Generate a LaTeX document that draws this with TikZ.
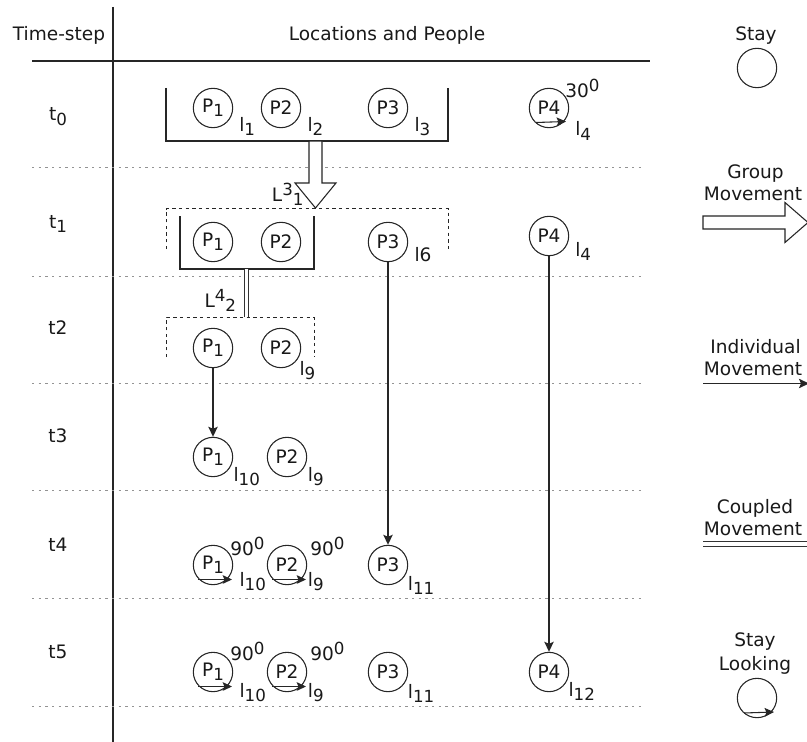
\documentclass[tikz,border=0pt]{standalone}
\usepackage{fontspec}
\setmainfont{DejaVu Sans}
\usetikzlibrary{arrows.meta,calc}
\newcommand\dn[1]{\raisebox{-3pt}{\fontsize{12.5}{13}\selectfont #1}}
\newcommand\up[1]{\raisebox{4.5pt}{\fontsize{12.5}{13}\selectfont #1}}
\begin{document}
\begin{tikzpicture}[x=0.75pt,y=-0.75pt,
  every node/.style={font=\fontsize{13.9}{16}\selectfont, inner sep=0pt, text=black!90},
  person/.style={circle, draw=black!85, line width=0.8pt, minimum size=29.5pt, inner sep=0pt},
  lab/.style={anchor=base west},
  txt/.style={anchor=base},
  rowline/.style={draw=gray!85, line width=0.75pt, dash pattern=on 1.8pt off 3.2pt},
  grp/.style={draw=black!85, line width=0.75pt, dash pattern=on 2.5pt off 2.5pt},
  solidbox/.style={draw=black!85, line width=0.8pt},
  mv/.style={draw=black!85, line width=1pt, -{Stealth[length=7.5pt,width=7pt,inset=1.5pt]}},
  look/.style={draw=black!85, line width=0.8pt, -{Stealth[length=7pt,width=6.5pt,inset=1.3pt]}},
  hollow/.style={draw=black!85, line width=0.8pt, fill=white, line join=miter},
  cpl/.style={draw=black!80, line width=0.75pt, double=white, double distance=2.8pt}]
\clip (0,0) rectangle (807,742);
\fill[white] (0,0) rectangle (807,742);

% frame
\draw[line width=1pt, black!85] (113,7) -- (113,742);
\draw[line width=1pt, black!85] (32,61) -- (650,61);
\foreach \yy in {167,276,383,490,598,706} \draw[rowline] (32,\yy) -- (645,\yy);

% header
\node[txt] (hT) at (59,40.5) {Time-step};
\node[txt] (hL) at (387,41) {Locations and People};
\node[txt] (hS) at (756,40.5) {Stay};

% time labels
\node[txt] (t0) at (58,121) {t\dn{0}};
\node[txt] (t1) at (58,228) {t\dn{1}};
\node[txt] (t2) at (58,334.5) {t2};
\node[txt] (t3) at (58,442.5) {t3};
\node[txt] (t4) at (58,551.5) {t4};
\node[txt] (t5) at (58,658.5) {t5};

% ---- t0
\draw[solidbox] (166,88) -- (166,141) -- (448,141) -- (448,88);
\node[person] (p1a) at (213,108) {P\dn{1}};
\node[person] (p2a) at (281,108) {P2};
\node[person] (p3a) at (388,108) {P3};
\node[person] (p4a) at (549,108) {P4};
\node[lab] (l1) at (239,131.5) {l\dn{1}};
\node[lab] (l2) at (307.3,131.5) {l\dn{2}};
\node[lab] (l3) at (414.3,131.5) {l\dn{3}};
\node[lab] (a30) at (565,97.7) {30\up{0}};
\node[lab] (l4a) at (575,136) {l\dn{4}};
\draw[look] ([shift={(-13,14.5)}]p4a.center) -- ([shift={(17,13.5)}]p4a.center);

% group movement arrow
\coordinate (g0) at (315.5,141);
\coordinate (g1) at (315.5,208);
\draw[hollow] ($(g0)+(-6.5,0)$) -- ($(g0)+(6.5,0)$) -- ($(g1)+(6.5,-25)$) -- ($(g1)+(20.5,-25)$) -- (g1) -- ($(g1)+(-20.5,-25)$) -- ($(g1)+(-6.5,-25)$) -- cycle;
\node[lab] (L31) at (271.7,201) {L\up{3}\dn{1}};

% ---- t1
\draw[grp] (166,249) -- (166,208.5) -- (448,208.5) -- (448,249);
\draw[solidbox] (180,216) -- (180,269) -- (314,269) -- (314,216);
\node[person] (p1b) at (213,242) {P\dn{1}};
\node[person] (p2b) at (281,242) {P2};
\node[person] (p3b) at (388,242) {P3};
\node[person] (p4b) at (549,236) {P4};
\node[lab] (l6) at (414.3,261.7) {l6};
\node[lab] (l4b) at (575,256.7) {l\dn{4}};

% coupled movement
\coordinate (c0) at (246.6,269);
\coordinate (c1) at (246.6,317);
\draw[cpl] (c0) -- (c1);
\node[lab] (L42) at (204.3,307.7) {L\up{4}\dn{2}};

% ---- t2
\draw[grp] (166.5,357) -- (166.5,317) -- (314,317) -- (314,357);
\node[person] (p1c) at (213,348) {P\dn{1}};
\node[person] (p2c) at (281,348) {P2};
\node[lab] (l9a) at (299.3,375) {l\dn{9}};

% ---- t3
\node[person] (p1d) at (213,457) {P\dn{1}};
\node[person] (p2d) at (287,457) {P2};
\node[lab] (l10a) at (233.3,481.7) {l\dn{10}};
\node[lab] (l9b) at (307.7,481.7) {l\dn{9}};

% ---- t4
\node[person] (p1e) at (213,565) {P\dn{1}};
\node[person] (p2e) at (287,565) {P2};
\node[person] (p3e) at (388,565) {P3};
\node[lab] (a90a) at (230,555) {90\up{0}};
\node[lab] (a90b) at (310,555) {90\up{0}};
\node[lab] (l10b) at (239.3,586.7) {l\dn{10}};
\node[lab] (l9c) at (307.7,586.7) {l\dn{9}};
\node[lab] (l11a) at (407.7,590) {l\dn{11}};
\draw[look] ([shift={(-15,14.5)}]p1e.center) -- ([shift={(19,14.5)}]p1e.center);
\draw[look] ([shift={(-15,14.5)}]p2e.center) -- ([shift={(19,14.5)}]p2e.center);

% ---- t5
\node[person] (p1f) at (213,672) {P\dn{1}};
\node[person] (p2f) at (287,672) {P2};
\node[person] (p3f) at (388,672) {P3};
\node[person] (p4f) at (549,672) {P4};
\node[lab] (a90c) at (230,660) {90\up{0}};
\node[lab] (a90d) at (310,660) {90\up{0}};
\node[lab] (l10c) at (239.3,697) {l\dn{10}};
\node[lab] (l9d) at (307.7,697) {l\dn{9}};
\node[lab] (l11b) at (407.7,698) {l\dn{11}};
\node[lab] (l12) at (568.3,696.7) {l\dn{12}};
\draw[look] ([shift={(-15,14.5)}]p1f.center) -- ([shift={(19,14.5)}]p1f.center);
\draw[look] ([shift={(-15,14.5)}]p2f.center) -- ([shift={(19,14.5)}]p2f.center);

% individual movements
\draw[mv] (p1c) -- (p1d);
\draw[mv] (p3b) -- (p3e);
\draw[mv] (p4b) -- (p4f);

% ---- legend
\node[person] (lstay) at (757,68) {};

\node[txt] (lgG) at (755.5,178.3) {Group};
\node[txt] (lgM) at (753,200) {Movement};
\coordinate (lg0) at (703,222.5);
\coordinate (lg1) at (808,222.5);
\draw[hollow] ($(lg0)+(0,-6.5)$) -- ($(lg1)+(-23,-6.5)$) -- ($(lg1)+(-23,-20)$) -- (lg1) -- ($(lg1)+(-23,20)$) -- ($(lg1)+(-23,6.5)$) -- ($(lg0)+(0,6.5)$) -- cycle;

\node[txt] (liI) at (755.5,353.3) {Individual};
\node[txt] (liM) at (753,375) {Movement};
\coordinate (li0) at (703,383.5);
\coordinate (li1) at (809,383.5);
\draw[mv] (li0) -- (li1);

\node[txt] (lcC) at (755,513.3) {Coupled};
\node[txt] (lcM) at (753,535) {Movement};
\coordinate (lc0) at (703,544.2);
\coordinate (lc1) at (808,544.2);
\draw[cpl] (lc0) -- (lc1);

\node[txt] (lsS) at (755,646.7) {Stay};
\node[txt] (lsL) at (755,670) {Looking};
\node[person] (lslook) at (757,698) {};
\draw[look] ([shift={(-13,15)}]lslook.center) -- ([shift={(17,14)}]lslook.center);
\end{tikzpicture}
\end{document}
